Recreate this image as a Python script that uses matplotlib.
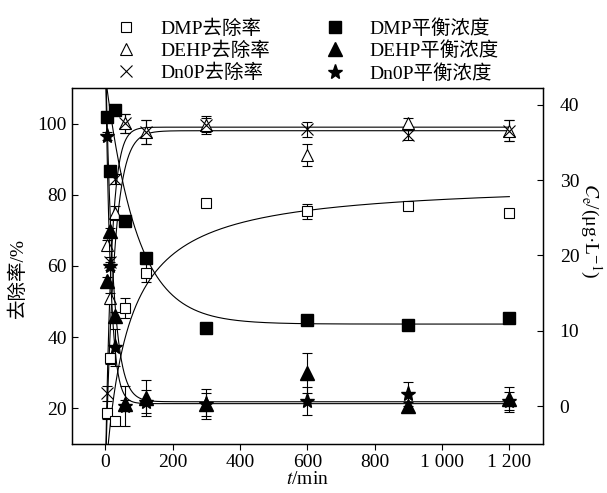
import numpy as np
import matplotlib
matplotlib.use("Agg")
import matplotlib.pyplot as plt
from matplotlib.ticker import FixedLocator

plt.rcParams['font.family'] = ['Liberation Serif', 'Noto Sans CJK SC', 'DejaVu Sans']
plt.rcParams['mathtext.fontset'] = 'stix'

# ---- data ----
t = [5, 15, 30, 60, 120, 300, 600, 900, 1200]

dmp_rem = [18.6, 34.1, 16.5, 48.1, 58.1, 77.8, 75.4, 76.9, 74.8]
dmp_rem_err = [1.5, 1.5, 1.0, 2.8, 2.6, 1.0, 2.1, 0.8, 0.8]
dehp_rem = [65.9, 50.9, 74.8, 100.1, 97.7, 99.6, 91.2, 100.1, 98.0]
dehp_rem_err = [1.5, 1.5, 2.0, 2.7, 3.3, 2.0, 3.0, 1.5, 3.0]
dnop_rem = [24.2, 61.1, 84.4, 100.1, 97.7, 99.6, 98.4, 96.8, 98.0]
dnop_rem_err = [2.0, 1.5, 1.5, 2.7, 3.3, 2.5, 2.1, 1.5, 3.0]

dmp_ce = [38.4, 31.2, 39.3, 24.5, 19.6, 10.4, 11.4, 10.8, 11.7]
dmp_ce_err = [0.3, 0.3, 0.3, 0.3, 0.3, 0.3, 0.3, 0.3, 0.3]
dehp_ce = [16.6, 23.2, 12.0, 0.3, 1.15, 0.26, 4.4, 0.04, 0.9]
dehp_ce_err = [0.5, 0.5, 0.5, 0.5, 2.4, 1.5, 2.6, 0.5, 1.6]
dnop_ce = [35.8, 18.6, 7.8, 0.04, 0.6, 0.3, 0.7, 1.6, 0.7]
dnop_ce_err = [0.5, 0.5, 2.5, 2.6, 1.5, 2.0, 1.9, 1.6, 1.2]

# fitted-curve parameters
dmp_rem_fit = (83.8, 0.01536)          # Rm, k  (hyperbolic)
dehp_rem_fit = (98.0, 0.038)           # Rm, k  (exponential)
dnop_rem_fit = (99.0, 0.055)
dmp_ce_fit = (43.9, 10.9, 0.0108)      # C0, Cinf, k
dehp_ce_fit = (48.0, 0.6, 0.045)
dnop_ce_fit = (47.5, 0.35, 0.065)

xticks = [0, 200, 400, 600, 800, 1000, 1200]
xticklabels = ['0', '200', '400', '600', '800', '1 000', '1 200']
yticks_left = [20, 40, 60, 80, 100]
yticks_right = [0, 10, 20, 30, 40]

fig = plt.figure(figsize=(6.07, 4.93), dpi=100)
ax = fig.add_axes([0.118, 0.0994, 0.7766, 0.7221])
ax2 = ax.twinx()

tc = np.linspace(0.01, 1200, 3000)

def hyper(p):
    Rm, k = p
    return Rm * k * tc / (1 + k * tc)

def expo_rise(p):
    Rm, k = p
    return Rm * (1 - np.exp(-k * tc))

def expo_decay(p):
    C0, Ci, k = p
    return Ci + (C0 - Ci) * np.exp(-k * tc)

lw = 0.8
ax.plot(tc, hyper(dmp_rem_fit), color='k', lw=lw)
ax.plot(tc, expo_rise(dehp_rem_fit), color='k', lw=lw)
ax.plot(tc, expo_rise(dnop_rem_fit), color='k', lw=lw)
ax2.plot(tc, expo_decay(dmp_ce_fit), color='k', lw=lw)
ax2.plot(tc, expo_decay(dehp_ce_fit), color='k', lw=lw)
ax2.plot(tc, expo_decay(dnop_ce_fit), color='k', lw=lw)

ekw = dict(fmt='none', ecolor='k', elinewidth=0.8, capsize=3.5, capthick=0.8)
ax.errorbar(t, dmp_rem, yerr=dmp_rem_err, **ekw)
ax.errorbar(t, dehp_rem, yerr=dehp_rem_err, **ekw)
ax.errorbar(t, dnop_rem, yerr=dnop_rem_err, **ekw)
ax2.errorbar(t, dmp_ce, yerr=dmp_ce_err, **ekw)
ax2.errorbar(t, dehp_ce, yerr=dehp_ce_err, **ekw)
ax2.errorbar(t, dnop_ce, yerr=dnop_ce_err, **ekw)

h1, = ax.plot(t, dmp_rem, ls='none', marker='s', ms=7.5, mfc='white', mec='k', mew=0.8, label='DMP去除率')
h2, = ax.plot(t, dehp_rem, ls='none', marker='^', ms=9, mfc='white', mec='k', mew=0.8, label='DEHP去除率')
h3, = ax.plot(t, dnop_rem, ls='none', marker='x', ms=8, mec='k', mew=0.8, label='Dn0P去除率')
h4, = ax2.plot(t, dmp_ce, ls='none', marker='s', ms=8, mfc='k', mec='k', label='DMP平衡浓度')
h5, = ax2.plot(t, dehp_ce, ls='none', marker='^', ms=10, mfc='k', mec='k', label='DEHP平衡浓度')
h6, = ax2.plot(t, dnop_ce, ls='none', marker='*', ms=11, mfc='k', mec='k', label='Dn0P平衡浓度')

ax.set_xlim(-100, 1300)
ax.set_ylim(10, 110)
ax2.set_ylim(-5, 42.2)

ax.xaxis.set_major_locator(FixedLocator(xticks))
ax.set_xticklabels(xticklabels)
ax.set_yticks(yticks_left)
ax2.set_yticks(yticks_right)

fs = 14
ax.tick_params(axis='x', direction='out', length=4, width=0.8, labelsize=fs, pad=3)
ax.tick_params(axis='y', direction='in', length=4, width=0.8, labelsize=fs)
ax2.tick_params(axis='y', direction='in', length=4, width=0.8, labelsize=fs, pad=12)
for a in (ax, ax2):
    for s in a.spines.values():
        s.set_linewidth(0.9)

ax.set_xlabel(r'$t$/min', fontsize=fs, labelpad=0)
ax.set_ylabel('去除率/%', fontsize=fs)
ax.yaxis.set_label_coords(-0.095, 0.466)
ax2.set_ylabel(r'$C_\mathrm{e}$/(μg·L$^{-1}$)', fontsize=fs, rotation=-90, va='center')
ax2.yaxis.set_label_coords(1.1, 0.6)

fig.legend(handles=[h1, h2, h3, h4, h5, h6], ncol=2, frameon=False, fontsize=fs,
           loc='upper left', bbox_to_anchor=(0.165, 0.985), labelspacing=0.2,
           columnspacing=2.6, handletextpad=1.0, handlelength=1.5, borderaxespad=0.2)

fig.savefig('out.png', dpi=100)
